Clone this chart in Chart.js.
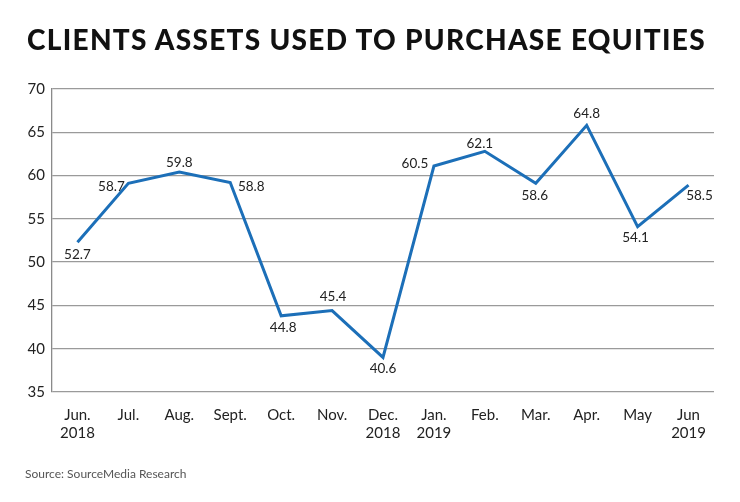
<!DOCTYPE html>
<html>
<head>
<meta charset="utf-8">
<script src="https://cdn.jsdelivr.net/npm/chart.js@4"></script>
<style>
  html, body { margin:0; padding:0; background:#fff; }
  #wrap { position:relative; width:740px; height:502px; overflow:hidden; }
  #title { position:absolute; left:0; width:733px; top:22px; text-align:center;
           font-family:Lato, sans-serif; font-weight:900; font-size:28px; color:#111; letter-spacing:1.3px; }
  #source { position:absolute; left:25px; top:466px; font-family:Lato, sans-serif; font-size:12px; color:#555; }
  #chartBox { position:absolute; left:0; top:0; width:740px; height:502px; }
</style>
</head>
<body>
<div id="wrap">
  <div id="chartBox"><canvas id="c" width="740" height="502"></canvas></div>
  <div id="title">CLIENTS ASSETS USED TO PURCHASE EQUITIES</div>
  <div id="source">Source: SourceMedia Research</div>
</div>
<script>
const categories = [["Jun.","2018"],"Jul.","Aug.","Sept.","Oct.","Nov.",["Dec.","2018"],["Jan.","2019"],"Feb.","Mar.","Apr.","May",["Jun","2019"]];
// values as plotted in the picture
const values = [52.3, 59.1, 60.4, 59.2, 43.8, 44.4, 39.0, 61.1, 62.8, 59.1, 65.8, 54.1, 58.9];
// value labels as printed in the picture
const valueLabels = ["52.7","58.7","59.8","58.8","44.8","45.4","40.6","60.5","62.1","58.6","64.8","54.1","58.5"];
const yTicks = [35, 40, 45, 50, 55, 60, 65, 70];

const labelOffsets = [[0,12],[-17,3],[0,-9],[21,4.5],[2,11.5],[1,-13.5],[0,11.5],[-19,-2.5],[-5,-7.5],[-1,12.5],[0,-11.5],[-2,11],[11,10.5]];

const labelPlugin = {
  id: 'valueLabels',
  afterDatasetsDraw(chart) {
    const ctx = chart.ctx;
    const meta = chart.getDatasetMeta(0);
    ctx.save();
    ctx.font = '13.5px Lato, sans-serif';
    ctx.fillStyle = '#222';
    ctx.textAlign = 'center';
    ctx.textBaseline = 'middle';
    meta.data.forEach((pt, i) => {
      const o = labelOffsets[i];
      ctx.fillText(valueLabels[i], pt.x + o[0], pt.y + o[1]);
    });
    ctx.restore();
  }
};

new Chart(document.getElementById('c'), {
  type: 'line',
  data: {
    labels: categories,
    datasets: [{
      data: values,
      borderColor: '#1c6fb8',
      borderWidth: 3,
      pointRadius: 0,
      tension: 0,
      fill: false,
      borderJoinStyle: 'miter'
    }]
  },
  options: {
    responsive: false,
    animation: false,
    devicePixelRatio: 1,
    layout: { padding: { top: 89, right: 26, left: 0, bottom: 0 } },
    plugins: { legend: { display: false }, tooltip: { enabled: false }, title: { display: false } },
    scales: {
      x: {
        offset: true,
        grid: { display: false },
        border: { display: false },
        ticks: { color: '#222', font: { family: 'Lato, sans-serif', size: 15 }, padding: 6, maxRotation: 0, autoSkip: false },
        afterFit(s) { s.height = 110; }
      },
      y: {
        min: 35, max: 70,
        afterBuildTicks(s) { s.ticks = yTicks.map(v => ({ value: v })); },
        grid: { color: '#9a9a9a', lineWidth: 1.3, drawTicks: false },
        border: { display: true, color: '#8a8a8a', width: 1.3 },
        ticks: { color: '#222', font: { family: 'Lato, sans-serif', size: 15 }, padding: 7 },
        afterFit(s) { s.width = 52; }
      }
    }
  },
  plugins: [labelPlugin]
});
</script>
</body>
</html>
